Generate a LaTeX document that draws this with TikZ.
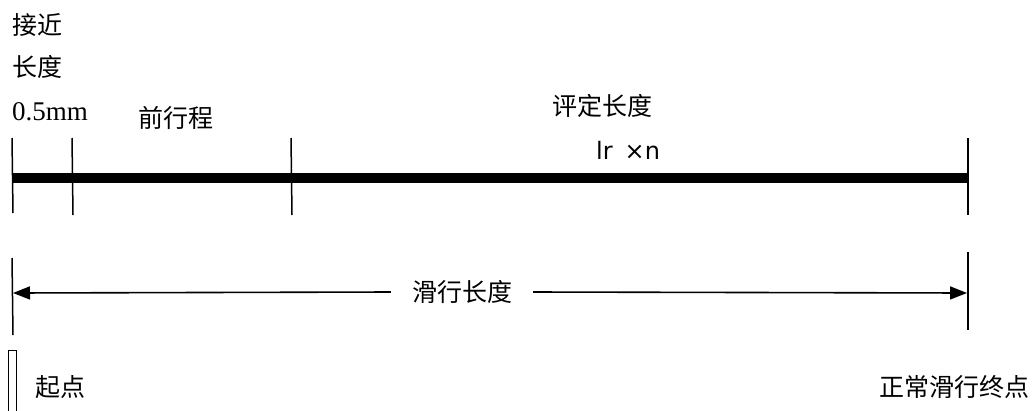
\documentclass[tikz,border=0pt]{standalone}
\usepackage{fontspec}
\setmainfont{Liberation Serif}
\newfontfamily\cjk{Noto Sans CJK SC}
\newfontfamily\lrfont{DejaVu Sans}
\usetikzlibrary{arrows.meta}
\begin{document}
\begin{tikzpicture}[x=1pt,y=-1pt,
	tick/.style={line width=1.5pt},
	bar/.style={line width=10pt},
	lbl/.style={font=\cjk\fontsize{25}{28}\selectfont,inner sep=0pt},
	arr/.style={line width=1.6pt,-{Triangle[length=17pt,width=13pt]}}]
	\useasboundingbox (0,0) rectangle (1035,410);
	% marks on the bar
	\coordinate (t0) at (12,138); \coordinate (b0) at (13,213);
	\coordinate (t1) at (72,138); \coordinate (b1) at (73,215);
	\coordinate (t2) at (291,138); \coordinate (b2) at (292,215);
	\coordinate (t3) at (968,138); \coordinate (b3) at (968,215);
	\draw[bar] (12,178) -- (968,178);
	\foreach \i in {0,...,3}
	\draw[tick] (t\i) -- (b\i);
	% labels above
	\node[lbl,anchor=west] (near1) at (12,25) {接近};
	\node[lbl,anchor=west] (near2) at (12,67) {长度};
	\node[inner sep=0pt,anchor=base west,font=\fontsize{27}{30}\selectfont] (half) at (12,120) {0.5mm};
	\node[lbl,anchor=west] (pre) at (138,118) {前行程};
	\node[lbl] (eval) at (602,106) {评定长度};
	\node[inner sep=0pt,anchor=west,font=\lrfont\fontsize{24}{27}\selectfont] (lrn) at (596,150) {lr\hspace{12pt}×n};
	% sliding length
	\coordinate (s0) at (12,258); \coordinate (s1) at (13,335);
	\coordinate (e0) at (968,252); \coordinate (e1) at (968,330);
	\draw[tick] (s0) -- (s1);
	\draw[tick] (e0) -- (e1);
	\coordinate (from) at (13,293);
	\coordinate (to) at (967,293);
	\node[lbl,inner xsep=21pt] (slide) at (462,292) {滑行长度};
	\draw[arr] (slide.west) -- (from);
	\draw[arr] (slide.east) -- (to);
	% start and end
	\draw[line width=0.8pt] (8,350) rectangle (16,412);
	\node[lbl,anchor=west] (start) at (35,387) {起点};
	\node[lbl,anchor=east] (stop) at (1030,387) {正常滑行终点};
\end{tikzpicture}
\end{document}
